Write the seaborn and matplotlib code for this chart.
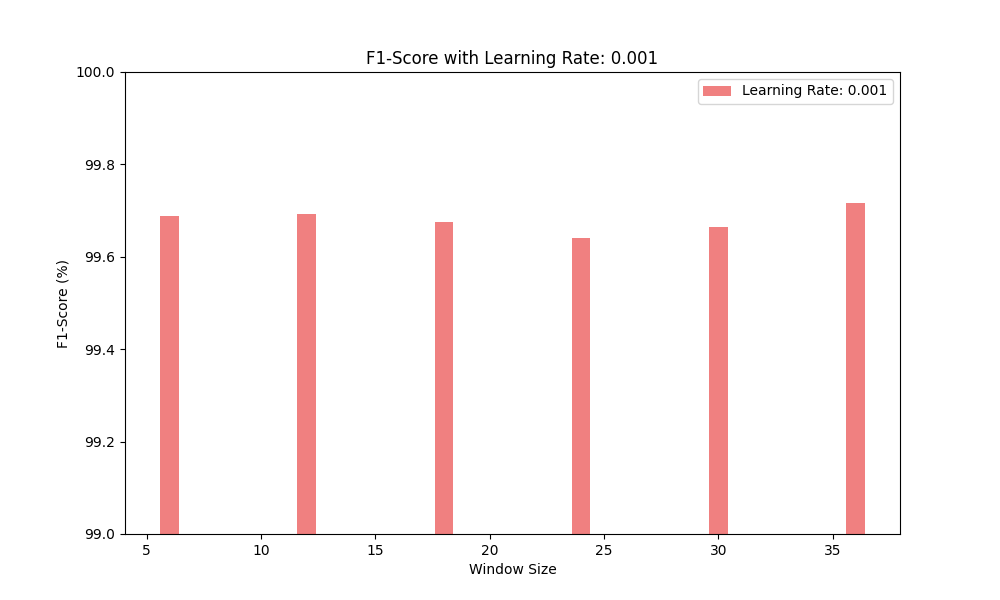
import matplotlib
matplotlib.use("Agg")
import matplotlib.pyplot as plt
import seaborn as sns
import pandas as pd

window_sizes = [6, 12, 18, 24, 30, 36]
f1_scores = [99.688, 99.693, 99.675, 99.641, 99.665, 99.716]
learning_rate = 0.001

df = pd.DataFrame({'window': window_sizes, 'f1': f1_scores})

fig, ax = plt.subplots(figsize=(10, 6), dpi=100)
# native_scale width is relative to the 6-unit spacing, so 0.8/6 gives 0.8 units
sns.barplot(data=df, x='window', y='f1', native_scale=True, width=0.8 / 6,
            color='lightcoral', saturation=1, label=f'Learning Rate: {learning_rate}', ax=ax)
ax.set_ylim(99, 100)
ax.set_xlabel('Window Size')
ax.set_ylabel('F1-Score (%)')
ax.set_title(f'F1-Score with Learning Rate: {learning_rate}')
ax.legend(loc='upper right')
fig.savefig('out.png')
